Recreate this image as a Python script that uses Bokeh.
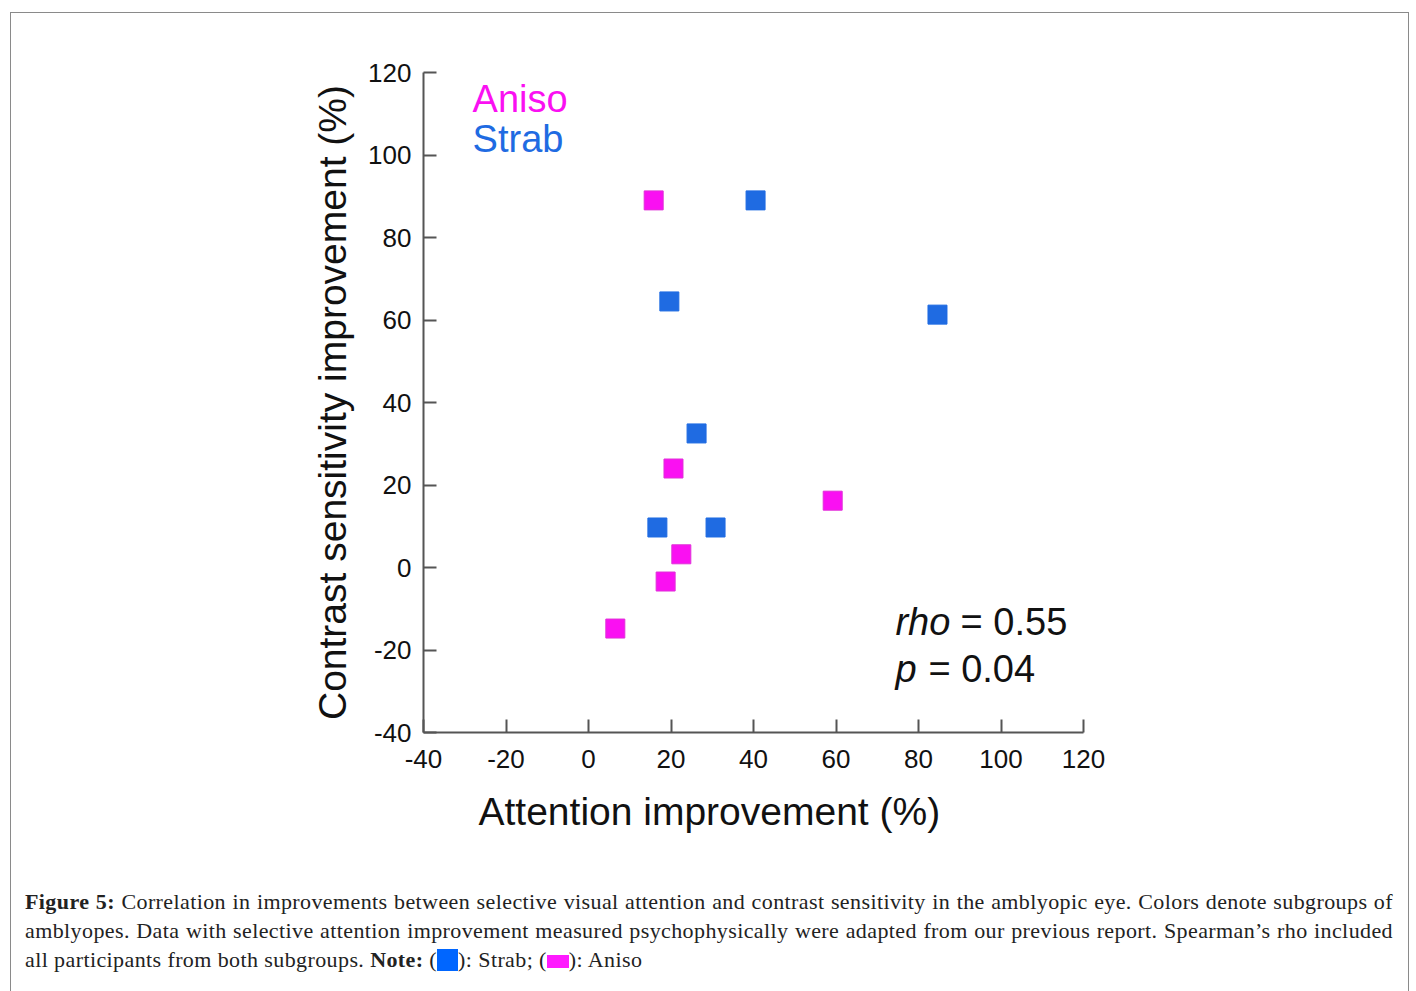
from bokeh.plotting import figure
from bokeh.models import FixedTicker, Div, Title
from bokeh.layouts import column
from bokeh.core.properties import value
from bokeh.embed import file_html
from bokeh.resources import INLINE

# ---- data ----
aniso_x = [15.8, 20.6, 59.2, 22.5, 18.7, 6.5]
aniso_y = [89.0, 24.0, 16.2, 3.2, -3.4, -14.8]
strab_x = [40.5, 19.6, 84.6, 26.2, 16.7, 30.8]
strab_y = [89.0, 64.5, 61.3, 32.5, 9.7, 9.7]
x_ticks = [-40, -20, 0, 20, 40, 60, 80, 100, 120]
y_ticks = [-40, -20, 0, 20, 40, 60, 80, 100, 120]
x_title = "Attention improvement (%)"
y_title = "Contrast sensitivity improvement (%)"
legend_labels = ["Aniso", "Strab"]
stats = [("rho", "= 0.55"), ("p", "= 0.04")]

MAGENTA = "#FA10F2"
BLUE = "#1F6BE2"
AXIS = "#555555"
FONT = "Liberation Sans"

p = figure(width=1397, height=858, x_range=(-40, 120), y_range=(-40, 120),
           output_backend="svg", toolbar_location=None,
           min_border_left=412, min_border_right=325,
           min_border_top=59, min_border_bottom=139)
p.outline_line_color = None
p.grid.visible = False
p.background_fill_color = "white"
p.border_fill_color = "white"

for ax, ticks in ((p.xaxis, x_ticks), (p.yaxis, y_ticks)):
    ax.ticker = FixedTicker(ticks=ticks)
    ax.major_label_overrides = {t: str(t) for t in ticks}
    ax.axis_line_color = AXIS
    ax.axis_line_width = 2
    ax.major_tick_line_color = AXIS
    ax.major_tick_line_width = 2
    ax.major_tick_in = 13
    ax.major_tick_out = 0
    ax.minor_tick_line_color = None
    ax.major_label_text_font = FONT
    ax.major_label_text_font_size = "26px"
    ax.major_label_text_color = "#111111"
    ax.axis_label_text_font = FONT
    ax.axis_label_text_font_size = "39px"
    ax.axis_label_text_font_style = "normal"
    ax.axis_label_text_color = "#111111"

p.yaxis.axis_label = y_title
p.xaxis.major_label_standoff = 17
p.yaxis.major_label_standoff = 12
p.yaxis.axis_label_standoff = 11

# x-axis title (starts left of the frame centre as in the reference)
p.add_layout(Title(text=x_title, align="left", offset=55, standoff=34,
                   text_font=FONT, text_font_size="39px", text_font_style="normal",
                   text_color="#111111"), "below")

p.scatter(strab_x, strab_y, marker="square", size=19,
          fill_color=BLUE, line_color=BLUE, line_width=1)
p.scatter(aniso_x, aniso_y, marker="square", size=19,
          fill_color=MAGENTA, line_color="#E030D8", line_width=1)

# legend texts
p.text(x=[-28.1], y=[113.6], text=[legend_labels[0]], text_color=MAGENTA,
       text_font=value(FONT), text_font_size="38px", text_baseline="alphabetic")
p.text(x=[-28.1], y=[103.9], text=[legend_labels[1]], text_color=BLUE,
       text_font=value(FONT), text_font_size="38px", text_baseline="alphabetic")

# statistics
p.text(x=[74.4], y=[-13.2], text=[stats[0][0]], text_color="#111111",
       text_font=value(FONT), text_font_size="38px", text_font_style="italic",
       text_baseline="alphabetic")
p.text(x=[90.2], y=[-13.2], text=[stats[0][1]], text_color="#111111",
       text_font=value(FONT), text_font_size="38px", text_baseline="alphabetic")
p.text(x=[74.4], y=[-24.6], text=[stats[1][0]], text_color="#111111",
       text_font=value(FONT), text_font_size="38px", text_font_style="italic",
       text_baseline="alphabetic")
p.text(x=[82.4], y=[-24.6], text=[stats[1][1]], text_color="#111111",
       text_font=value(FONT), text_font_size="38px", text_baseline="alphabetic")

line_style = "text-align:justify; text-align-last:justify; white-space:nowrap;"
caption_html = (
    '<div style="font-family:\'Liberation Serif\', serif; font-size:22px; line-height:29px; '
    'letter-spacing:0.4px; color:#222; width:1368px;">'
    f'<div style="{line_style}"><b>Figure 5:</b> Correlation in improvements between selective visual '
    'attention and contrast sensitivity in the amblyopic eye. Colors denote subgroups of</div>'
    f'<div style="{line_style}">amblyopes. Data with selective attention improvement measured '
    'psychophysically were adapted from our previous report. Spearman\u2019s rho included</div>'
    '<div style="white-space:nowrap;">all participants from both subgroups. <b>Note:</b> ('
    '<span style="display:inline-block; width:21px; height:22px; background:#0066FF; vertical-align:-4px;"></span>'
    '): Strab; ('
    '<span style="display:inline-block; width:22px; height:13px; background:#FF1AFF; vertical-align:-1px;"></span>'
    '): Aniso</div></div>'
)
cap = Div(text=caption_html, width=1397, height=114,
          styles={"padding-left": "9px", "padding-top": "11px", "box-sizing": "border-box"})

layout = column(p, cap, width=1397,
                styles={"border": "1px solid #8a8a8a", "margin-left": "10px",
                        "margin-top": "12px", "background": "white",
                        "width": "1397px", "box-sizing": "content-box"})

open("out.html", "w").write(file_html(layout, INLINE))
